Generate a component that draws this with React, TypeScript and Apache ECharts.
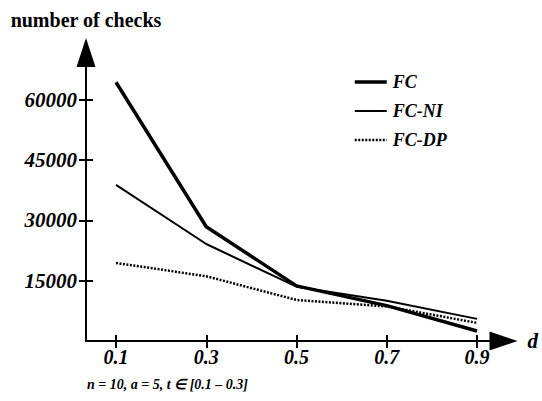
import React, { useEffect, useRef } from "react";
import * as echarts from "echarts";

const dValues = [0.1, 0.3, 0.5, 0.7, 0.9];
const fcValues = [64300, 28400, 13700, 8800, 2500];
const fcNiValues = [38800, 24100, 13500, 10000, 5500];
const fcDpValues = [19400, 16100, 10200, 8600, 4500];
const yTickValues = [15000, 30000, 45000, 60000];
const xTickValues = [0.1, 0.3, 0.5, 0.7, 0.9];
const seriesNames = ["FC", "FC-NI", "FC-DP"];
const yTitle = "number of checks";
const xTitle = "d";
const caption = "n = 10, a = 5, t \u2208 [0.1 \u2013 0.3]";

const FONT = "Liberation Serif";

export default function App() {
  const ref = useRef<HTMLDivElement>(null);
  useEffect(() => {
    if (!ref.current) return;
    const chart = echarts.init(ref.current, null, { renderer: "svg" });
    const pair = (xs: number[], ys: number[]) => xs.map((x, i) => [x, ys[i]]);
    const xMin = 0.0335;
    const xMax = 0.9587;
    const yMin = 0;
    const yMax = 71700;
    const axisColor = "#000";
    const widths = [3.5, 2, 2.5];
    const types: any[] = ["solid", "solid", [2, 1.5]];
    chart.setOption({
      animation: false,
      backgroundColor: "#fff",
      title: {
        text: caption,
        left: 82,
        top: 372,
        textStyle: {
          fontFamily: FONT,
          fontStyle: "italic",
          fontWeight: "bold",
          fontSize: 14,
          color: "#000",
        },
      },
      legend: {
        orient: "vertical",
        left: 348,
        top: 68,
        itemWidth: 32,
        itemHeight: 14,
        itemGap: 11,
        data: seriesNames.map((n, i) => ({
          name: n,
          lineStyle: { width: widths[i], type: types[i], color: "#000" },
        })),
        itemStyle: { opacity: 0 },
        textStyle: {
          fontFamily: FONT,
          fontStyle: "italic",
          fontWeight: "bold",
          fontSize: 18,
          color: "#000",
          padding: [0, 0, 0, 1],
        },
      },
      grid: {
        left: 86,
        right: 38.5,
        top: 52.5,
        bottom: 60,
        containLabel: false,
        outerBoundsMode: "none",
      },
      xAxis: [
        {
          type: "value",
          min: xMin,
          max: xMax,
          name: xTitle,
          nameLocation: "end",
          nameGap: 24,
          nameTextStyle: {
            fontFamily: FONT,
            fontStyle: "italic",
            fontWeight: "bold",
            fontSize: 21,
            color: "#000",
            verticalAlign: "middle",
          },
          axisLine: {
            show: true,
            symbol: ["none", "triangle"],
            symbolSize: [19, 28],
            lineStyle: { color: axisColor, width: 2 },
          },
          axisTick: {
            show: true,
            length: 7,
            customValues: xTickValues,
            lineStyle: { color: axisColor, width: 2 },
          },
          axisLabel: {
            show: true,
            customValues: xTickValues,
            margin: 6,
            fontFamily: FONT,
            fontStyle: "italic",
            fontWeight: "bold",
            fontSize: 20,
            color: "#000",
            formatter: (v: number) => v.toFixed(1),
          },
          splitLine: { show: false },
        },
        {
          type: "value",
          position: "bottom",
          min: xMin,
          max: xMax,
          axisLine: { show: false },
          axisTick: {
            show: true,
            inside: true,
            length: 6,
            customValues: xTickValues,
            lineStyle: { color: axisColor, width: 2 },
          },
          axisLabel: { show: false },
          splitLine: { show: false },
        },
      ],
      yAxis: [
        {
          type: "value",
          min: yMin,
          max: yMax,
          name: yTitle,
          nameLocation: "end",
          nameGap: 23,
          nameTextStyle: {
            fontFamily: FONT,
            fontWeight: "bold",
            fontSize: 20,
            color: "#000",
            align: "center",
          },
          axisLine: {
            show: true,
            symbol: ["none", "triangle"],
            symbolSize: [19, 29],
            lineStyle: { color: axisColor, width: 2 },
          },
          axisTick: {
            show: true,
            length: 7,
            customValues: yTickValues,
            lineStyle: { color: axisColor, width: 2 },
          },
          axisLabel: {
            show: true,
            customValues: yTickValues,
            margin: 9,
            fontFamily: FONT,
            fontStyle: "italic",
            fontWeight: "bold",
            fontSize: 21,
            color: "#000",
            formatter: (v: number) => String(v),
          },
          splitLine: { show: false },
        },
        {
          type: "value",
          position: "left",
          min: yMin,
          max: yMax,
          axisLine: { show: false },
          axisTick: {
            show: true,
            inside: true,
            length: 7,
            customValues: yTickValues,
            lineStyle: { color: axisColor, width: 2 },
          },
          axisLabel: { show: false },
          splitLine: { show: false },
        },
      ],
      series: [
        {
          name: seriesNames[0],
          type: "line",
          data: pair(dValues, fcValues),
          symbol: "none",
          lineStyle: { color: "#000", width: widths[0], type: types[0] },
          itemStyle: { color: "#000" },
        },
        {
          name: seriesNames[1],
          type: "line",
          data: pair(dValues, fcNiValues),
          symbol: "none",
          lineStyle: { color: "#000", width: widths[1], type: types[1] },
          itemStyle: { color: "#000" },
        },
        {
          name: seriesNames[2],
          type: "line",
          data: pair(dValues, fcDpValues),
          symbol: "none",
          lineStyle: { color: "#000", width: widths[2], type: types[2] },
          itemStyle: { color: "#000" },
        },
      ],
    });
    return () => chart.dispose();
  }, []);
  return (
    <div
      ref={ref}
      style={{ position: "fixed", left: 0, top: 0, width: 542, height: 401 }}
    />
  );
}
